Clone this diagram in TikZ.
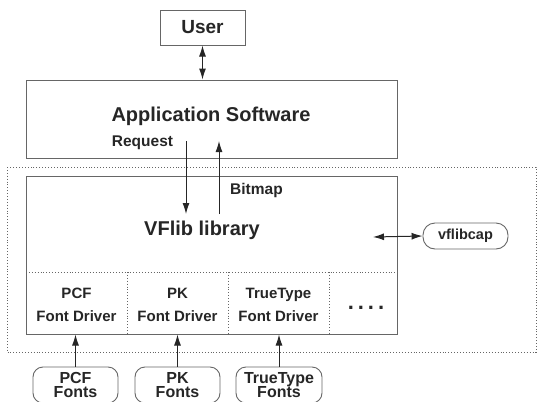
\documentclass[tikz,border=0pt]{standalone}
\usepackage{fontspec}
\setmainfont{Liberation Sans}
\usetikzlibrary{positioning,arrows.meta}

\begin{document}
\begin{tikzpicture}[
    x=1pt, y=-1pt,
    font=\bfseries,
    box/.style={draw, black!60, line width=1pt, text=black!85, inner sep=0pt},
    cell/.style={align=center, text=black!85, inner sep=0pt,
                 font=\bfseries\fontsize{15}{23}\selectfont},
    src/.style={draw, black!60, line width=0.9pt, rounded corners=10pt, align=center,
                text=black!85, inner sep=0pt, minimum height=36pt, minimum width=85pt,
                font=\bfseries\fontsize{16}{14.5}\selectfont},
    link/.style={{Latex[length=11pt,width=7pt]}-{Latex[length=11pt,width=7pt]},
                 black!85, line width=1pt},
    flow/.style={-{Latex[length=11pt,width=7pt]}, black!85, line width=1pt},
    sep/.style={black!60, line width=0.9pt, dotted},
  ]
  \useasboundingbox (0,0) rectangle (539,402);

  % ---------- outer dotted frame round the library ----------
  \draw[sep] (7,167) rectangle (536,352);

  % ---------- user and application ----------
  \node[box, minimum width=85pt, minimum height=35pt,
        font=\bfseries\fontsize{19}{22}\selectfont] (user) at (202.5,27.5) {User};
  \node[box, minimum width=371pt, minimum height=78pt] (app) at (211.5,119) {};
  \node[text=black!85, font=\bfseries\fontsize{20}{24}\selectfont] (applbl) at (211,116)
    {Application Software};
  \draw[link] (user.south) -- (user.south |- app.north);

  % ---------- the library box and its driver row ----------
  \node[box, minimum width=371pt, minimum height=158pt] (vflib) at (211.5,255) {};
  \node[text=black!85, font=\bfseries\fontsize{20}{24}\selectfont] (vfliblbl) at (202,230)
    {VFlib library};
  \draw[sep] (26,272) -- (397,272);
  \foreach \xx in {127,228,329}
    \draw[sep] (\xx,272) -- (\xx,334);

  \node[cell] (pcfdrv) at (76.5,305) {PCF\\Font Driver};
  \node[cell] (pkdrv)  at (177.5,305) {PK\\Font Driver};
  \node[cell] (ttdrv)  at (278.5,305) {TrueType\\Font Driver};
  \node[text=black!85, font=\bfseries\fontsize{22}{24}\selectfont] (more) at (366,308)
    {.\hspace{4pt}.\hspace{4pt}.\hspace{4pt}.};

  % ---------- request / bitmap between application and library ----------
  \node[text=black!85, font=\bfseries\fontsize{15.5}{18}\selectfont] (reqlbl) at (142.5,143) {Request};
  \node[text=black!85, font=\bfseries\fontsize{15.5}{18}\selectfont] (bmplbl) at (256.5,190) {Bitmap};
  \coordinate (reqtop) at (186,141);
  \coordinate (reqbot) at (186,214);
  \coordinate (bmpbot) at (219,214);
  \coordinate (bmptop) at (219,141);
  \draw[flow] (reqtop) -- (reqbot);
  \draw[flow] (bmpbot) -- (bmptop);

  % ---------- vflibcap ----------
  \node[src, minimum height=26pt, rounded corners=12pt,
        font=\bfseries\fontsize{14.5}{16}\selectfont] (cap) at (465.5,236) {vflibcap};
  \coordinate (capend) at (373,237);
  \draw[link] (capend) -- (cap.west);

  % ---------- font files feeding the drivers ----------
  \node[src] (pcffont) at (75.5,385) {PCF\\Fonts};
  \node[src] (pkfont)  at (177.5,385) {PK\\Fonts};
  \node[src, minimum width=86pt] (ttfont) at (279,385) {TrueType\\Fonts};
  \draw[flow] (pcffont.north) -- (pcffont.north |- vflib.south);
  \draw[flow] (pkfont.north) -- (pkfont.north |- vflib.south);
  \draw[flow] (ttfont.north) -- (ttfont.north |- vflib.south);

\end{tikzpicture}
\end{document}
